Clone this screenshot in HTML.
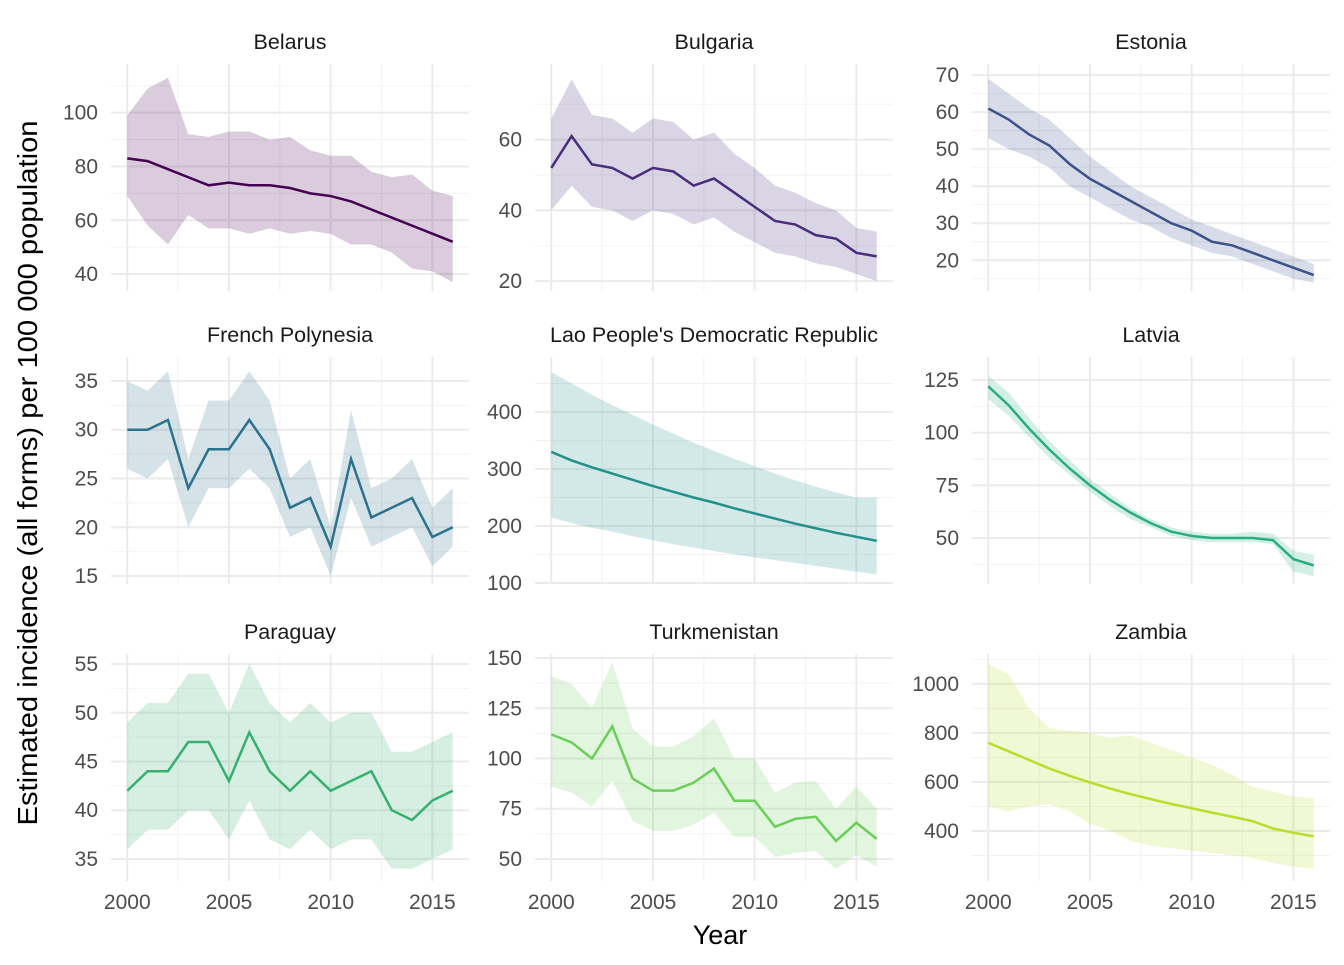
<!DOCTYPE html>
<html><head><meta charset="utf-8"><style>
body{margin:0;background:#fff}
svg text{font-family:"Liberation Sans",sans-serif}
</style></head><body>
<svg id="chart" width="1344" height="960" xmlns="http://www.w3.org/2000/svg"></svg>
<script>
const years=[2000,2001,2002,2003,2004,2005,2006,2007,2008,2009,2010,2011,2012,2013,2014,2015,2016];
const xTicks=[2000,2005,2010,2015];
const countries=["Belarus","Bulgaria","Estonia","French Polynesia","Lao People's Democratic Republic","Latvia","Paraguay","Turkmenistan","Zambia"];
const colors=["#440154","#472d7b","#3b528b","#2c728e","#21908c","#27ad81","#35b06e","#6ccd5a","#b8de29"];
const belarusMean=[83,82,79,76,73,74,73,73,72,70,69,67,64,61,58,55,52];
const belarusHi=[99,109,113,92,91,93,93,90,91,86,84,84,78,76,77,71,69];
const belarusLo=[69,58,51,62,57,57,55,57,55,56,55,51,51,48,42,41,37];
const bulgariaMean=[52,61,53,52,49,52,51,47,49,45,41,37,36,33,32,28,27];
const bulgariaHi=[66,77,67,66,62,66,65,60,62,56,52,47,45,42,40,35,34];
const bulgariaLo=[40,47,41,40,37,40,39,36,38,34,31,28,27,25,24,22,20];
const estoniaMean=[61,58,54,51,46,42,39,36,33,30,28,25,24,22,20,18,16];
const estoniaHi=[69,65,61,58,53,48,44,40,37,34,31,29,27,25,23,21,19];
const estoniaLo=[53,50,48,45,40,37,34,31,29,26,24,22,21,19,17,15,14];
const fpMean=[30,30,31,24,28,28,31,28,22,23,18,27,21,22,23,19,20];
const fpHi=[35,34,36,27,33,33,36,33,25,27,20,32,24,25,27,22,24];
const fpLo=[26,25,27,20,24,24,26,24,19,20,15,23,18,19,20,16,18];
const laoMean=[330,315,303,292,281,270,260,250,241,231,222,213,204,196,188,181,174];
const laoHi=[470,450,430,412,395,378,362,346,332,318,305,292,280,269,259,250,250];
const laoLo=[215,205,197,190,182,175,168,162,156,150,145,140,135,130,125,120,115];
const latviaMean=[122,113,102,92,83,75,68,62,57,53,51,50,50,50,49,40,37];
const latviaHi=[127,119,107,96,87,78,71,64,59,55,53,52,52,53,52,44,42];
const latviaLo=[116,108,98,88,80,72,65,59,55,51,49,48,48,48,47,34,32];
const paraguayMean=[42,44,44,47,47,43,48,44,42,44,42,43,44,40,39,41,42];
const paraguayHi=[49,51,51,54,54,50,55,51,49,51,49,50,50,46,46,47,48];
const paraguayLo=[36,38,38,40,40,37,41,37,36,38,36,37,37,34,34,35,36];
const turkMean=[112,108,100,116,90,84,84,88,95,79,79,66,70,71,59,68,60];
const turkHi=[141,137,125,148,115,106,106,111,120,100,100,83,88,89,75,86,75];
const turkLo=[86,83,76,89,69,64,64,67,73,61,61,51,53,54,45,52,46];
const zambiaMean=[760,725,690,655,625,598,573,550,530,510,493,475,458,440,410,393,378];
const zambiaHi=[1080,1040,900,820,810,800,780,790,760,730,700,670,630,580,560,540,535];
const zambiaLo=[500,480,500,510,480,430,400,360,340,330,320,310,300,290,270,255,245];
const yTicks=[[40,60,80,100],[20,40,60],[20,30,40,50,60,70],[15,20,25,30,35],[100,200,300,400],[50,75,100,125],[35,40,45,50,55],[50,75,100,125,150],[400,600,800,1000]];
const yLimits=[[33.7,118.1],[17.2,81.4],[11.7,73],[14.18,37.46],[98.2,496.5],[28.2,135.9],[32.74,56.03],[39.05,152],[196,1122]];
const means=[belarusMean,bulgariaMean,estoniaMean,fpMean,laoMean,latviaMean,paraguayMean,turkMean,zambiaMean];
const his=[belarusHi,bulgariaHi,estoniaHi,fpHi,laoHi,latviaHi,paraguayHi,turkHi,zambiaHi];
const los=[belarusLo,bulgariaLo,estoniaLo,fpLo,laoLo,latviaLo,paraguayLo,turkLo,zambiaLo];

const svg=document.getElementById('chart');
const NS="http://www.w3.org/2000/svg";
function mk(tag,attrs,parent){const e=document.createElementNS(NS,tag);for(const k in attrs)e.setAttribute(k,attrs[k]);(parent||svg).appendChild(e);return e;}
const colLeft=[111,535,972], panelW=358, rowTop=[64,357,654], panelH=227;
for(let i=0;i<9;i++){
  const c=i%3,r=Math.floor(i/3);
  const L=colLeft[c],T=rowTop[r];
  const x=v=>L+(v-1999.2)/17.6*panelW;
  const [y0,y1]=yLimits[i];
  const y=v=>T+panelH-(v-y0)/(y1-y0)*panelH;
  const g=mk('g',{});
  
  
  const t=yTicks[i],step=t[1]-t[0];
  for(let v=t[0]-step/2;v<=y1;v+=step){if(v<y0)continue;const l=mk('line',{x1:L,x2:L+panelW,y1:y(v),y2:y(v),stroke:'#f2f2f2','stroke-width':1},g);}
  for(let v=1997.5;v<=2017;v+=5){if(v<1999.2)continue;const l=mk('line',{x1:x(v),x2:x(v),y1:T,y2:T+panelH,stroke:'#f2f2f2','stroke-width':1},g);}
  t.forEach(v=>{const l=mk('line',{x1:L,x2:L+panelW,y1:y(v),y2:y(v),stroke:'#ebebeb','stroke-width':2},g);
    const tx=mk('text',{x:L-13,y:y(v)+7,'text-anchor':'end','font-size':21,fill:'#4d4d4d'},g);tx.textContent=v;});
  xTicks.forEach(v=>{const l=mk('line',{x1:x(v),x2:x(v),y1:T,y2:T+panelH,stroke:'#ebebeb','stroke-width':2},g);
    if(r===2){const tx=mk('text',{x:x(v),y:909,'text-anchor':'middle','font-size':21,fill:'#4d4d4d'},g);tx.textContent=v;}});
  let d=years.map((yr,k)=>(k?'L':'M')+x(yr)+','+y(his[i][k])).join('');
  for(let k=years.length-1;k>=0;k--)d+='L'+x(years[k])+','+y(los[i][k]);
  const band=mk('path',{d:d+'Z',fill:colors[i],'fill-opacity':0.2},g);
  
  const line=mk('path',{d:years.map((yr,k)=>(k?'L':'M')+x(yr)+','+y(means[i][k])).join(''),fill:'none',stroke:colors[i],'stroke-width':2.5},g);
  
  const st=mk('text',{x:L+panelW/2,y:T-15,'text-anchor':'middle','font-size':21.5,fill:'#1a1a1a'},g);
  st.textContent=countries[i];
}
const xt=mk('text',{x:720,y:944,'text-anchor':'middle','font-size':27,fill:'#000'});
xt.textContent='Year';
const yt=mk('text',{x:0,y:0,'text-anchor':'middle','font-size':28,fill:'#000',textLength:705,lengthAdjust:'spacingAndGlyphs',transform:'translate(37,473) rotate(-90)'});
yt.textContent='Estimated incidence (all forms) per 100 000 population';
</script>
</body></html>
